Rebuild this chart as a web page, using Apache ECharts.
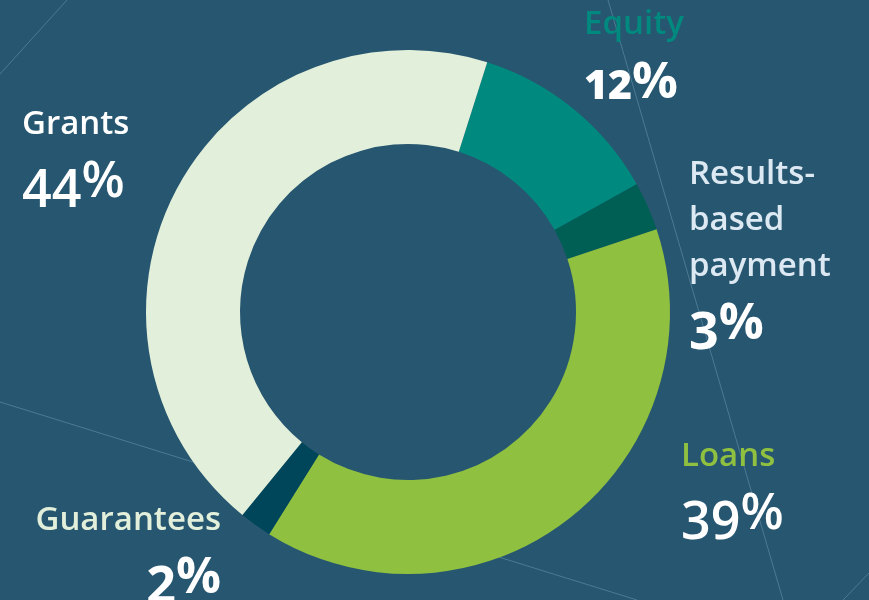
<!DOCTYPE html>
<html>
<head>
<meta charset="utf-8">
<script src="https://cdn.jsdelivr.net/npm/echarts@6/dist/echarts.min.js"></script>
<style>
html,body{margin:0;padding:0;background:#275670;}
#chart{width:869px;height:600px;}
</style>
</head>
<body>
<div id="chart"></div>
<script>
// ---- data ----
var categories = ['Equity', 'Results-based payment', 'Loans', 'Guarantees', 'Grants'];
var shares = [12, 3, 39, 2, 44];
var sliceColors = ['#00897e', '#005f54', '#8fc03f', '#00465a', '#e2efda'];
var nameColors = ['#00897e', '#dce8f2', '#8fc03f', '#e2efda', '#ffffff'];

// label placement (layout only)
var labelPlace = {
  'Equity': {x: 584, y: 2, align: 'left', pct: 'pctS'},
  'Results-based payment': {x: 689, y: 152, align: 'left', pct: 'pctB'},
  'Loans': {x: 681, y: 434, align: 'left', pct: 'pctR'},
  'Guarantees': {x: 221, y: 498, align: 'right', pct: 'pctB'},
  'Grants': {x: 22, y: 102, align: 'left', pct: 'pctR'}
};

var font = '"Open Sans", "Noto Sans", sans-serif';
var chart = echarts.init(document.getElementById('chart'));

var data = categories.map(function (c, i) {
  return {
    name: c,
    value: shares[i],
    itemStyle: {color: sliceColors[i]},
    label: {color: nameColors[i]}
  };
});

chart.setOption({
  backgroundColor: '#275670',
  animation: false,
  graphic: [
    {type: 'line', silent: true, z: 0, shape: {x1: 0, y1: 74, x2: 67, y2: 0}, style: {stroke: 'rgba(150,190,210,0.35)', lineWidth: 1}},
    {type: 'line', silent: true, z: 0, shape: {x1: 0, y1: 402, x2: 637, y2: 600}, style: {stroke: 'rgba(150,190,210,0.35)', lineWidth: 1}},
    {type: 'line', silent: true, z: 0, shape: {x1: 608, y1: 0, x2: 783, y2: 600}, style: {stroke: 'rgba(150,190,210,0.35)', lineWidth: 1}},
    {type: 'line', silent: true, z: 0, shape: {x1: 869, y1: 573, x2: 843, y2: 600}, style: {stroke: 'rgba(150,190,210,0.35)', lineWidth: 1}}
  ],
  series: [{
    type: 'pie',
    center: [408, 312],
    radius: [168, 262],
    startAngle: 72.4,
    clockwise: true,
    avoidLabelOverlap: false,
    emphasis: {disabled: true},
    labelLine: {show: false},
    label: {
      show: true,
      position: 'outside',
      fontFamily: font,
      formatter: function (p) {
        var nm = p.name.replace('-', '-\n').replace(' ', '\n');
        var st = labelPlace[p.name].pct;
        return '{nm|' + nm + '}\n{' + st + '|' + p.value + '}{' + st + 'p|%}';
      },
      rich: {
        nm: {fontFamily: font, fontSize: 33, fontWeight: 600, lineHeight: 46},
        pctR: {fontFamily: font, fontSize: 52, fontWeight: 600, color: '#ffffff', lineHeight: 88},
        pctRp: {fontFamily: font, fontSize: 50, fontWeight: 600, color: '#ffffff', lineHeight: 88, padding: [0, 0, 18, 0]},
        pctB: {fontFamily: font, fontSize: 52, fontWeight: 700, color: '#ffffff', lineHeight: 88},
        pctBp: {fontFamily: font, fontSize: 50, fontWeight: 700, color: '#ffffff', lineHeight: 88, padding: [0, 0, 18, 0]},
        pctS: {fontFamily: font, fontSize: 41, fontWeight: 800, color: '#ffffff', lineHeight: 78},
        pctSp: {fontFamily: font, fontSize: 51, fontWeight: 700, color: '#ffffff', lineHeight: 78, padding: [0, 0, 8, 0]}
      }
    },
    labelLayout: function (params) {
      var pl = labelPlace[categories[params.dataIndex]];
      return {x: pl.x, y: pl.y, align: pl.align, verticalAlign: 'top', hideOverlap: false};
    },
    data: data
  }]
});
</script>
</body>
</html>
